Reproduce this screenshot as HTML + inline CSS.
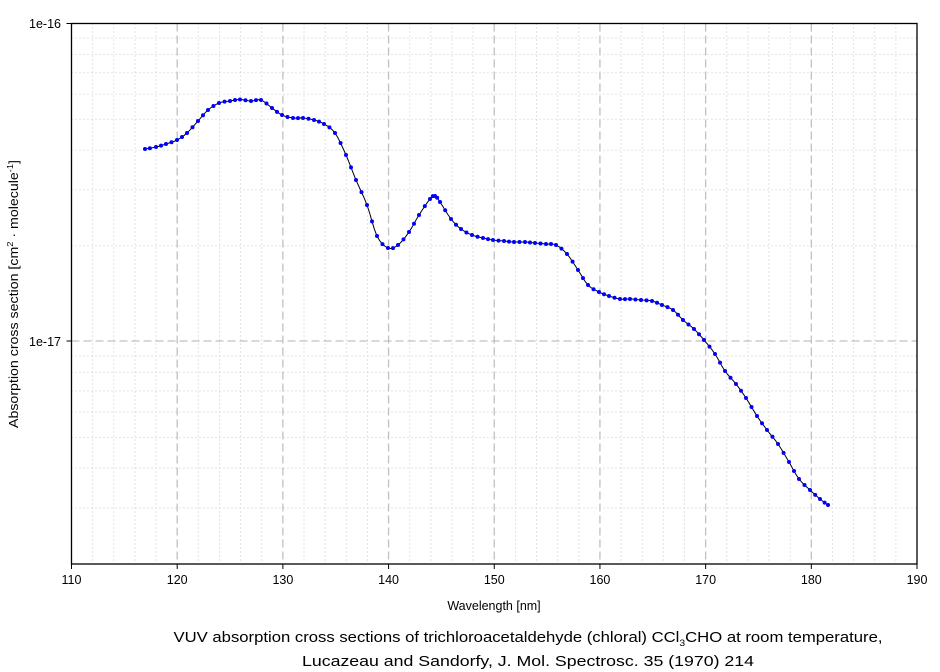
<!DOCTYPE html>
<html><head><meta charset="utf-8"><style>
body{margin:0;background:#fff;}
svg{display:block;font-family:"Liberation Sans",Arial,sans-serif;}
</style></head><body>
<svg id="s" width="940" height="672" xmlns="http://www.w3.org/2000/svg">
<g id="grid"></g>
<rect x="71.5" y="23.5" width="845.5" height="540.5" fill="none" stroke="#000" stroke-width="1.3"/>
<g id="ticks" font-size="12.5" fill="#000"></g>
<text x="61" y="28" font-size="12.5" text-anchor="end">1e-16</text>
<text x="61" y="346" font-size="12.5" text-anchor="end">1e-17</text>
<text x="494" y="610" font-size="12.5" text-anchor="middle">Wavelength [nm]</text>
<text transform="translate(18,294) rotate(-90)" font-size="13" text-anchor="middle" textLength="268" lengthAdjust="spacingAndGlyphs">Absorption cross section [cm<tspan dy="-5" font-size="8.5">2</tspan><tspan dy="5"> · molecule</tspan><tspan dy="-5" font-size="8.5">-1</tspan><tspan dy="5">]</tspan></text>
<text x="528" y="642" font-size="14.5" text-anchor="middle" textLength="709" lengthAdjust="spacingAndGlyphs">VUV absorption cross sections of trichloroacetaldehyde (chloral) CCl<tspan dy="4" font-size="9">3</tspan><tspan dy="-4">CHO at room temperature,</tspan></text>
<text x="528" y="666" font-size="14.5" text-anchor="middle" textLength="452" lengthAdjust="spacingAndGlyphs">Lucazeau and Sandorfy, J. Mol. Spectrosc. 35 (1970) 214</text>
<g id="data"></g>
</svg>
<script>
var NS="http://www.w3.org/2000/svg";
function el(p,t,a){var e=document.createElementNS(NS,t);for(var k in a)e.setAttribute(k,a[k]);p.appendChild(e);return e;}
var g=document.getElementById('grid'),tk=document.getElementById('ticks'),d=document.getElementById('data');
var L=71.5,R=917,T=23.5,B=564;
function X(w){return L+(w-110)*(R-L)/80;}
function Y(v){return T+(-16-Math.log10(v))*318.1;}
for(var w=112;w<190;w+=2){var x=X(w);var maj=w%10==0;
 el(g,'line',{x1:x,x2:x,y1:T,y2:B,stroke:maj?'#c0c0c0':'#c8c8c8','stroke-width':maj?1.3:1,'stroke-dasharray':maj?'8,4':'1,3'});}
for(var w=110;w<=190;w+=10){var x=X(w);el(tk,'line',{x1:x,x2:x,y1:B,y2:B+5,stroke:'#000'});
 var t=el(tk,'text',{x:x,y:B+20,'text-anchor':'middle'});t.textContent=w;}
el(tk,'line',{x1:L-5,x2:L,y1:T,y2:T,stroke:'#000'});el(tk,'line',{x1:L-5,x2:L,y1:341,y2:341,stroke:'#000'});
var vals=[];for(var m=3;m<=9;m++)vals.push(m*1e-18);for(var m=2;m<=9;m++)vals.push(m*1e-17);
vals.forEach(function(v){var y=Y(v);el(g,'line',{x1:L,x2:R,y1:y,y2:y,stroke:'#c8c8c8','stroke-dasharray':'1,3'});});
el(g,'line',{x1:L,x2:R,y1:341,y2:341,stroke:'#c0c0c0','stroke-width':1.3,'stroke-dasharray':'8,4'});
var P=[[145,149],[156,147],[166,144],[177,140],[187,133],[198,121],[208,110],[219,103],[230,101],[240,99.5],[251,101],[261,100],[272,108],[282,115],[293,118],[303,118],[314,120],[324,124],[335,133],[346,155],[356,180],[367,205],[377,236],[388,248],[398,245],[409,232],[419,215],[430,199],[435,196],[440,202],[451,219],[461,229],[472,235],[483,238],[493,240],[504,241],[514,242],[525,242],[535,243],[546,244],[556,245],[567,254],[578,270],[588,285],[599,292],[609,296],[620,299],[630,299],[641,300],[652,301],[662,305],[673,310],[683,320],[694,329],[704,340],[715,354],[725,371],[736,384],[746,398],[757,416],[767,430],[778,444],[789,462],[799,479],[810,490],[820,499],[828,505]];
var pts=[];
for(var i=0;i<P.length-1;i++){var p0=P[Math.max(0,i-1)],p1=P[i],p2=P[i+1],p3=P[Math.min(P.length-1,i+2)];
 for(var s=0;s<4;s++){var t=s/4,t2=t*t,t3=t2*t;pts.push([0,1].map(function(k){return 0.5*((2*p1[k])+(-p0[k]+p2[k])*t+(2*p0[k]-5*p1[k]+4*p2[k]-p3[k])*t2+(-p0[k]+3*p1[k]-3*p2[k]+p3[k])*t3);}));}}
pts.push(P[P.length-1]);
el(d,'polyline',{points:pts.map(function(p){return p.join(',')}).join(' '),fill:'none',stroke:'#000','stroke-width':1});
for(var i=0;i<pts.length;i+=2){el(d,'circle',{cx:pts[i][0],cy:pts[i][1],r:2,fill:'#0000ff'});}
</script>
</body></html>
